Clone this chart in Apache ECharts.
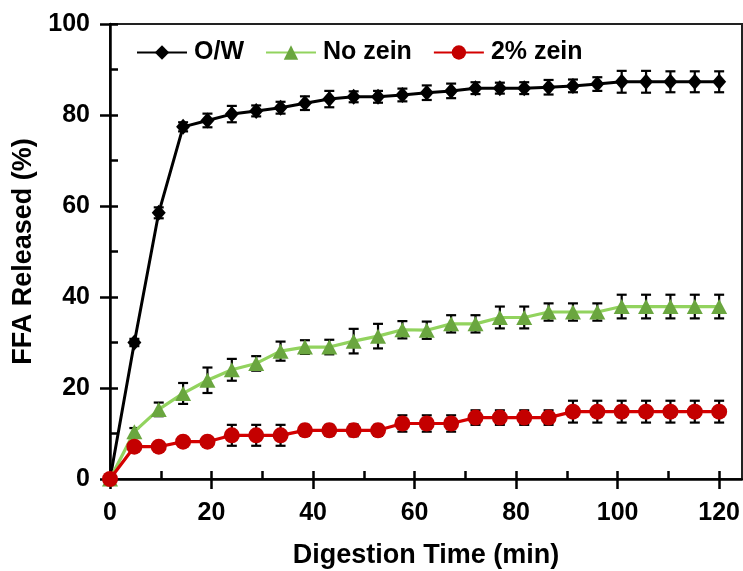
<!DOCTYPE html>
<html>
<head>
<meta charset="utf-8">
<script src="https://cdn.jsdelivr.net/npm/echarts@6/dist/echarts.min.js"></script>
<style>
html,body{margin:0;padding:0;background:#fff;}
#c{width:743px;height:571px;}
</style>
</head>
<body>
<div id="c"></div>
<script>
var times = [0,4.8,9.6,14.4,19.2,24,28.8,33.6,38.4,43.2,48,52.8,57.6,62.4,67.2,72,76.8,81.6,86.4,91.2,96,100.8,105.6,110.4,115.2,120];
var owVals = [0,30.0,58.5,77.4,78.8,80.2,80.9,81.6,82.6,83.5,84.0,84.0,84.4,84.9,85.3,85.9,85.9,85.9,86.1,86.4,86.8,87.3,87.3,87.3,87.3,87.3];
var owErr = [0,0.8,1.2,1.0,1.5,1.8,1.2,1.3,1.5,1.8,1.2,1.3,1.4,1.6,1.6,1.3,1.2,1.3,1.6,1.4,1.5,2.4,2.4,2.3,2.3,2.3];
var noZeinVals = [0,10.4,15.3,18.8,21.7,24.0,25.4,28.1,29.0,29.0,30.3,31.4,32.8,32.7,34.1,34.1,35.5,35.5,36.7,36.7,36.7,37.9,37.9,37.9,37.9,37.9];
var noZeinErr = [0,0.8,1.5,2.3,2.8,2.4,1.6,2.1,1.5,1.6,2.7,2.7,1.9,1.9,1.9,1.9,2.4,2.4,1.9,1.9,1.9,2.6,2.6,2.6,2.6,2.6];
var zeinVals = [0,7.1,7.1,8.2,8.2,9.6,9.6,9.6,10.7,10.7,10.7,10.7,12.2,12.2,12.2,13.5,13.5,13.5,13.5,14.8,14.8,14.8,14.8,14.8,14.8,14.8];
var zeinErr = [0,0.5,0.5,0.8,0.8,2.3,2.3,2.3,1.2,1.2,1.3,1.2,1.8,1.8,1.8,1.6,1.6,1.6,1.6,2.4,2.4,2.4,2.4,2.4,2.4,2.4];
var xMajor = [0,20,40,60,80,100,120];
var xMinor = [0,10,20,30,40,50,60,70,80,90,100,110,120];
var yMajor = [0,20,40,60,80,100];
var yMinor = [0,10,20,30,40,50,60,70,80,90,100];
var seriesNames = ['O/W','No zein','2% zein'];

var FONT = '"Liberation Sans", Arial, sans-serif';

function pairs(vals){ return times.map(function(t,i){ return [t, vals[i]]; }); }
function errData(vals, errs){ return times.map(function(t,i){ return [t, vals[i]-errs[i], vals[i]+errs[i]]; }); }

function errRender(params, api){
  var x = api.value(0);
  var lo = api.coord([x, api.value(1)]);
  var hi = api.coord([x, api.value(2)]);
  var hw = 5;
  var st = {stroke:'#000', lineWidth:2.2};
  return {type:'group', children:[
    {type:'line', shape:{x1:lo[0],y1:lo[1],x2:hi[0],y2:hi[1]}, style:st},
    {type:'line', shape:{x1:lo[0]-hw,y1:lo[1],x2:lo[0]+hw,y2:lo[1]}, style:st},
    {type:'line', shape:{x1:hi[0]-hw,y1:hi[1],x2:hi[0]+hw,y2:hi[1]}, style:st}
  ]};
}

var chart = echarts.init(document.getElementById('c'), null, {renderer:'canvas'});
var axisLabelStyle = {fontSize:25, fontWeight:'bold', color:'#000', fontFamily:FONT};
chart.setOption({
  backgroundColor:'#fff',
  animation:false,
  grid:{left:110, right:1, top:24, bottom:92, show:true, borderColor:'#222', borderWidth:2, backgroundColor:'transparent', containLabel:false, outerBoundsMode:'none'},
  legend:{
    left:131, top:35, itemWidth:50, itemHeight:18, itemGap:21,
    data:seriesNames,
    textStyle:{fontSize:25, fontWeight:'bold', color:'#000', fontFamily:FONT, padding:[0,0,0,2]}
  },
  xAxis:[{
    type:'value', min:0, max:124.5, gridIndex:0, position:'bottom',
    name:'Digestion Time (min)', nameLocation:'middle', nameGap:63,
    nameTextStyle:{fontSize:27, fontWeight:'bold', color:'#000', fontFamily:FONT},
    axisLine:{show:true, onZero:false, lineStyle:{color:'#000', width:2.5}},
    axisTick:{show:true, inside:true, length:8, customValues:xMinor, lineStyle:{color:'#000', width:2.5}},
    axisLabel:Object.assign({margin:22, customValues:xMajor}, axisLabelStyle),
    splitLine:{show:false}
  },{
    type:'value', min:0, max:124.5, gridIndex:0, position:'bottom', offset:0,
    axisLine:{show:false, onZero:false},
    axisTick:{show:true, inside:false, length:10, customValues:xMajor, lineStyle:{color:'#000', width:2.5}},
    axisLabel:{show:false},
    splitLine:{show:false}
  }],
  yAxis:[{
    type:'value', min:0, max:100, interval:20, gridIndex:0, position:'left',
    name:'FFA Released (%)', nameLocation:'middle', nameGap:72,
    nameTextStyle:{fontSize:27, fontWeight:'bold', color:'#000', fontFamily:FONT},
    axisLine:{show:true, onZero:false, lineStyle:{color:'#000', width:2.5}},
    axisTick:{show:true, inside:true, length:8, customValues:yMinor, lineStyle:{color:'#000', width:2.5}},
    axisLabel:Object.assign({margin:20, customValues:yMajor}, axisLabelStyle),
    splitLine:{show:false}
  },{
    type:'value', min:0, max:100, interval:20, gridIndex:0, position:'left', offset:0,
    axisLine:{show:false, onZero:false},
    axisTick:{show:true, inside:false, length:10, customValues:yMajor, lineStyle:{color:'#000', width:2.5}},
    axisLabel:{show:false},
    splitLine:{show:false}
  }],
  series:[
    {type:'custom', renderItem:errRender, data:errData(owVals, owErr), z:1, silent:true, encode:{x:0, y:[1,2]}},
    {type:'custom', renderItem:errRender, data:errData(noZeinVals, noZeinErr), z:1, silent:true, encode:{x:0, y:[1,2]}},
    {type:'custom', renderItem:errRender, data:errData(zeinVals, zeinErr), z:1, silent:true, encode:{x:0, y:[1,2]}},
    {name:seriesNames[0], type:'line', data:pairs(owVals), z:3,
     symbol:'diamond', symbolSize:[14,16], showAllSymbol:true,
     lineStyle:{color:'#000', width:3}, itemStyle:{color:'#000', borderWidth:0}},
    {name:seriesNames[1], type:'line', data:pairs(noZeinVals), z:4,
     symbol:'triangle', symbolSize:[16,15], showAllSymbol:true,
     lineStyle:{color:'#92d35e', width:3.2}, itemStyle:{color:'#6aa63f', borderWidth:0}},
    {name:seriesNames[2], type:'line', data:pairs(zeinVals), z:5,
     symbol:'circle', symbolSize:16, showAllSymbol:true,
     lineStyle:{color:'#d40000', width:3.2}, itemStyle:{color:'#c40000', borderWidth:0}}
  ]
});
</script>
</body>
</html>
